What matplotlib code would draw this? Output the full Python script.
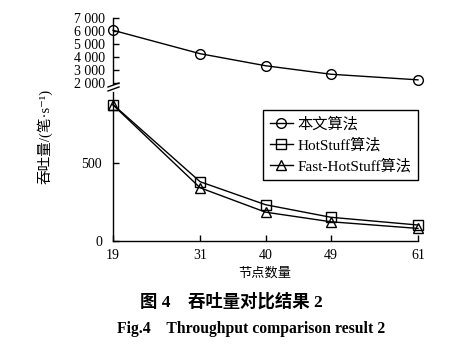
import matplotlib
matplotlib.use("Agg")
import matplotlib.pyplot as plt
from matplotlib.lines import Line2D

plt.rcParams['font.family'] = ['Liberation Serif', 'Noto Sans CJK SC', 'DejaVu Sans']
plt.rcParams['axes.unicode_minus'] = False

# data
nodes = [19, 31, 40, 49, 61]
ours = [6060, 4270, 3350, 2700, 2270]
hotstuff = [880, 382, 234, 153, 103]
fast_hotstuff = [877, 343, 186, 124, 81]

x_ticks = [19, 31, 40, 49, 61]
upper_ticks = [2000, 3000, 4000, 5000, 6000, 7000]
upper_labels = ['2 000', '3 000', '4 000', '5 000', '6 000', '7 000']
lower_ticks = [0, 500]
lower_labels = ['0', '500']

W, H = 466, 355
fig = plt.figure(figsize=(W / 100, H / 100), dpi=100)

def box(x0, y0, x1, y1):
    # pixel box -> figure fraction
    return [x0 / W, 1 - y1 / H, (x1 - x0) / W, (y1 - y0) / H]

ax_top = fig.add_axes(box(113, 18, 418, 86))
ax_bot = fig.add_axes(box(113, 89, 418, 241))

style = dict(color='black', lw=1.0, markerfacecolor='none', markeredgecolor='black',
             markeredgewidth=1.0, markersize=7)

ax_top.plot(nodes, ours, marker='o', clip_on=False, **style)
l1, = ax_bot.plot([], [], marker='o', **style)
l2, = ax_bot.plot(nodes, hotstuff, marker='s', clip_on=False, **style)
l3, = ax_bot.plot(nodes, fast_hotstuff, marker='^', clip_on=False, **style)

ax_top.set_ylim(1800, 7000)
ax_bot.set_ylim(0, 980)
for ax in (ax_top, ax_bot):
    ax.set_xlim(19, 61)
    ax.spines['top'].set_visible(False)
    ax.spines['right'].set_visible(False)
    ax.tick_params(direction='in', length=4, width=1, labelsize=10)
    ax.spines['left'].set_linewidth(1)
    ax.spines['bottom'].set_linewidth(1)

ax_top.spines['bottom'].set_visible(False)
ax_top.set_xticks([])
ax_top.set_yticks(upper_ticks)
ax_top.set_yticklabels(upper_labels)
ax_top.tick_params(axis='y', pad=6)

ax_bot.set_xticks(x_ticks)
ax_bot.set_xticklabels([str(v) for v in x_ticks])
ax_bot.set_yticks(lower_ticks)
ax_bot.set_yticklabels(lower_labels)
ax_bot.tick_params(axis='y', pad=8)
ax_bot.tick_params(axis='x', pad=6)

# break marks on the y axis
fig.add_artist(Line2D([113 / W, 113 / W], [1 - 89.5 / H, 1 - 85.5 / H],
                      transform=fig.transFigure, color='white', lw=2))
for yp in (85, 89):
    fig.add_artist(Line2D([108 / W, 119 / W], [1 - (yp + 2) / H, 1 - (yp - 2) / H],
                          transform=fig.transFigure, color='black', lw=1))

leg = ax_bot.legend([l1, l2, l3], ['本文算法', 'HotStuff算法', 'Fast-HotStuff算法'],
                    loc='upper right', bbox_to_anchor=(1.0, 0.86), fancybox=False,
                    edgecolor='black', framealpha=1, fontsize=11, handlelength=1.5,
                    handletextpad=0.3, borderpad=0.45, labelspacing=0.4, borderaxespad=0)
leg.get_frame().set_linewidth(1)

fig.text(45 / W, 1 - 136 / H, '吞吐量/(笔·s⁻¹)', rotation=90, ha='center', va='center',
         fontsize=10.5)
fig.text(265 / W, 1 - 273 / H, '节点数量', ha='center', va='center', fontsize=9.5)
fig.text(231 / W, 1 - 302 / H, '图 4    吞吐量对比结果 2', ha='center', va='center',
         fontsize=12.5, fontweight='bold')
fig.text(251 / W, 1 - 329 / H, 'Fig.4    Throughput comparison result 2', ha='center',
         va='center', fontsize=11.3, fontweight='bold')

fig.savefig('out.png', dpi=100)
